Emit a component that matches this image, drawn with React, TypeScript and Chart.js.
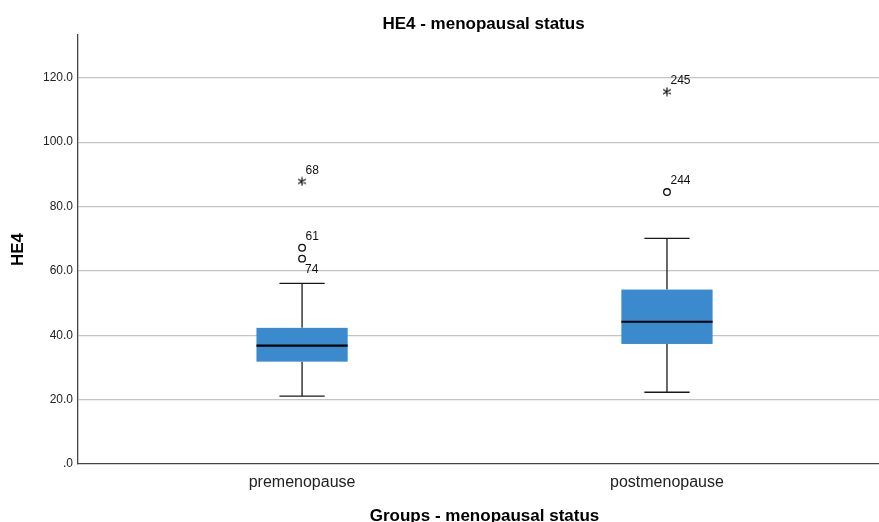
import React, { useEffect, useRef } from 'react';
import { Chart, registerables } from 'chart.js';

Chart.register(...registerables);

// ---- data ----
const categories = ['premenopause', 'postmenopause'];
const lowerWhisker = [21.1, 22.3];
const q1 = [31.8, 37.3];
const median = [36.8, 44.2];
const q3 = [42.3, 54.2];
const upperWhisker = [56.1, 70.1];

// mild outliers (circles)
const outlierGroup = [0, 0, 1];
const outlierValues = [67.2, 63.8, 84.5];
const outlierIds = ['61', '74', '244'];
// extreme outliers (stars)
const extremeGroup = [0, 1];
const extremeValues = [87.8, 115.7];
const extremeIds = ['68', '245'];

const yTicks = [0, 20, 40, 60, 80, 100, 120];

const chartTitle = 'HE4 - menopausal status';
const xTitle = 'Groups - menopausal status';
const yTitle = 'HE4';

// ---- styles ----
const FONT = "'Liberation Sans', Arial, Helvetica, sans-serif";
const BOX_COLOR = '#3a8acd';
const BOX_HALF = 0.125; // in x units
const CAP_HALF = 0.062;
const outlierLabelBelow = [false, true, false];

function makeAsterisk(): HTMLCanvasElement {
  const c = document.createElement('canvas');
  c.width = 10;
  c.height = 10;
  const g = c.getContext('2d');
  if (g) {
    g.strokeStyle = '#111';
    g.lineWidth = 1.2;
    g.lineCap = 'round';
    const r = 4;
    g.beginPath();
    for (let k = 0; k < 3; k++) {
      const a = (Math.PI / 3) * k + Math.PI / 2;
      g.moveTo(5 + r * Math.cos(a), 5 + r * Math.sin(a));
      g.lineTo(5 - r * Math.cos(a), 5 - r * Math.sin(a));
    }
    g.stroke();
  }
  return c;
}

const boxPlugin = {
  id: 'boxPlugin',
  beforeDatasetsDraw(chart: any) {
    const { ctx, scales } = chart;
    const x = scales.x;
    const y = scales.y;
    ctx.save();
    categories.forEach((_, i) => {
      const cx = x.getPixelForValue(i + 1);
      const hb = x.getPixelForValue(i + 1 + BOX_HALF) - cx;
      const hc = x.getPixelForValue(i + 1 + CAP_HALF) - cx;
      const yLo = y.getPixelForValue(lowerWhisker[i]);
      const yQ1 = y.getPixelForValue(q1[i]);
      const yMed = y.getPixelForValue(median[i]);
      const yQ3 = y.getPixelForValue(q3[i]);
      const yHi = y.getPixelForValue(upperWhisker[i]);
      ctx.strokeStyle = '#1a1a1a';
      ctx.lineWidth = 1.3;
      ctx.beginPath();
      ctx.moveTo(cx, yLo);
      ctx.lineTo(cx, yQ1);
      ctx.moveTo(cx, yQ3);
      ctx.lineTo(cx, yHi);
      ctx.moveTo(cx - hc, yLo);
      ctx.lineTo(cx + hc, yLo);
      ctx.moveTo(cx - hc, yHi);
      ctx.lineTo(cx + hc, yHi);
      ctx.stroke();
      ctx.fillStyle = BOX_COLOR;
      ctx.fillRect(cx - hb, yQ3, hb * 2, yQ1 - yQ3);
      ctx.strokeStyle = '#000';
      ctx.lineWidth = 2.2;
      ctx.beginPath();
      ctx.moveTo(cx - hb, yMed);
      ctx.lineTo(cx + hb, yMed);
      ctx.stroke();
    });
    ctx.restore();
  },
  afterDatasetsDraw(chart: any) {
    const { ctx, scales } = chart;
    const x = scales.x;
    const y = scales.y;
    ctx.save();
    ctx.fillStyle = '#111';
    ctx.font = `12px ${FONT}`;
    ctx.textAlign = 'left';
    ctx.textBaseline = 'alphabetic';
    outlierValues.forEach((v, k) => {
      const px = x.getPixelForValue(outlierGroup[k] + 1);
      const py = y.getPixelForValue(v);
      if (outlierLabelBelow[k]) ctx.fillText(outlierIds[k], px + 3, py + 14);
      else ctx.fillText(outlierIds[k], px + 3.5, py - 8);
    });
    extremeValues.forEach((v, k) => {
      const px = x.getPixelForValue(extremeGroup[k] + 1);
      const py = y.getPixelForValue(v);
      ctx.fillText(extremeIds[k], px + 3.5, py - 7.5);
    });
    ctx.restore();
  },
  afterDraw(chart: any) {
    const { ctx, scales, chartArea } = chart;
    const x = scales.x;
    const midX = x.getPixelForValue(1.5);
    ctx.save();
    ctx.fillStyle = '#000';
    ctx.textAlign = 'center';
    ctx.textBaseline = 'middle';
    ctx.font = `bold 17px ${FONT}`;
    ctx.fillText(chartTitle, midX - 1, 24);
    ctx.fillText(xTitle, midX, 516);
    ctx.translate(18, (chartArea.top + chartArea.bottom) / 2);
    ctx.rotate(-Math.PI / 2);
    ctx.fillText(yTitle, 0, 0);
    ctx.restore();
  },
};

export default function App() {
  const canvasRef = useRef<HTMLCanvasElement | null>(null);

  useEffect(() => {
    const canvas = canvasRef.current;
    if (!canvas) return;
    const asterisk = makeAsterisk();
    const chart = new Chart(canvas, {
      type: 'scatter',
      data: {
        datasets: [
          {
            label: 'Outliers',
            data: outlierValues.map((v, k) => ({ x: outlierGroup[k] + 1, y: v })),
            pointStyle: 'circle',
            radius: 3.3,
            borderColor: '#111',
            backgroundColor: 'rgba(255,255,255,0)',
            borderWidth: 1.3,
          },
          {
            label: 'Extremes',
            data: extremeValues.map((v, k) => ({ x: extremeGroup[k] + 1, y: v })),
            pointStyle: asterisk as any,
            radius: 4,
            borderColor: '#111',
            backgroundColor: '#111',
            borderWidth: 1,
          },
        ],
      },
      options: {
        animation: false,
        responsive: false,
        maintainAspectRatio: false,
        events: [],
        layout: { autoPadding: false, padding: { top: 35, left: 0, right: 0, bottom: 0 } },
        plugins: {
          legend: { display: false },
          tooltip: { enabled: false },
          title: { display: false },
        },
        scales: {
          x: {
            type: 'linear',
            min: 0.386,
            max: 2.581,
            afterFit(scale: any) {
              scale.height = 58;
              scale.paddingLeft = 0;
              scale.paddingRight = 0;
            },
            afterBuildTicks(scale: any) {
              scale.ticks = categories.map((_, i) => ({ value: i + 1 }));
            },
            grid: { display: false, drawTicks: false },
            border: { display: true, color: '#444', width: 1.3 },
            ticks: {
              padding: 9,
              color: '#222',
              font: { family: FONT, size: 16 },
              autoSkip: false,
              maxRotation: 0,
              callback: (v: any) => categories[Math.round(Number(v)) - 1] ?? '',
            },
          },
          y: {
            type: 'linear',
            min: 0,
            max: 133.3,
            afterFit(scale: any) {
              scale.width = 78;
              scale.paddingTop = 0;
              scale.paddingBottom = 0;
            },
            afterBuildTicks(scale: any) {
              scale.ticks = yTicks.map((v) => ({ value: v }));
            },
            grid: {
              color: (c: any) => (c.tick && c.tick.value === 0 ? 'rgba(0,0,0,0)' : '#c4c4c4'),
              lineWidth: 1.2,
              drawTicks: false,
            },
            border: { display: true, color: '#444', width: 1.3 },
            ticks: {
              padding: 5,
              color: '#222',
              font: { family: FONT, size: 12 },
              callback: (v: any) => (Number(v) === 0 ? '.0' : Number(v).toFixed(1)),
            },
          },
        },
      },
      plugins: [boxPlugin],
    });
    return () => chart.destroy();
  }, []);

  return (
    <div style={{ position: 'fixed', left: 0, top: 0, width: 879, height: 522, background: '#fff' }}>
      <canvas ref={canvasRef} width={879} height={522} style={{ display: 'block', width: 879, height: 522 }} />
    </div>
  );
}
